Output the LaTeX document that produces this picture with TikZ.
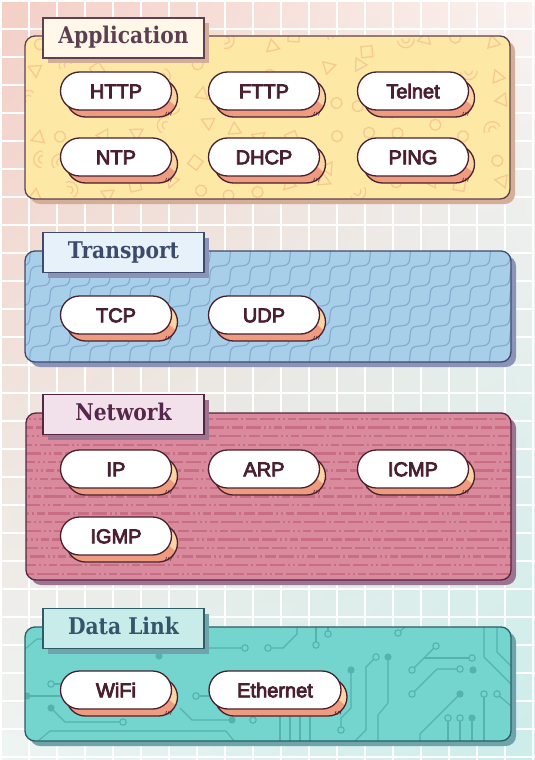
\documentclass[tikz,border=0pt]{standalone}
\usepackage{fontspec}
\usepackage{tikz}
\usetikzlibrary{shapes.misc,shadows,shadings}

\newfontfamily\tabfont{DejaVu Serif}[FakeStretch=0.88]
\newfontfamily\protofont{Liberation Sans}[FakeBold=4]

\definecolor{bgUL}{HTML}{F4CFC5}
\definecolor{bgUR}{HTML}{FAF1EF}
\definecolor{bgLL}{HTML}{EEF5F3}
\definecolor{bgLR}{HTML}{CBEDEA}
\definecolor{ink}{HTML}{4A1F2E}
\definecolor{salmon}{HTML}{EE9B80}
\definecolor{peach}{HTML}{FCD3A2}
\definecolor{applFill}{HTML}{FDE8A6}
\definecolor{applShape}{HTML}{F7C992}
\definecolor{applLine}{HTML}{5E4050}
\definecolor{applShadow}{HTML}{D5AE99}
\definecolor{applTab}{HTML}{FFF8E8}
\definecolor{applText}{HTML}{5E3F52}
\definecolor{tranFill}{HTML}{A8CFE9}
\definecolor{tranWave}{HTML}{84A9CD}
\definecolor{tranLine}{HTML}{3F4A6C}
\definecolor{tranShadow}{HTML}{8C93B8}
\definecolor{tranTab}{HTML}{E6F1FA}
\definecolor{tranText}{HTML}{3E4A6B}
\definecolor{netFill}{HTML}{D98A9C}
\definecolor{netDash}{HTML}{C96D85}
\definecolor{netLine}{HTML}{552640}
\definecolor{netShadow}{HTML}{9C7492}
\definecolor{netTab}{HTML}{F2E1EA}
\definecolor{netText}{HTML}{55274A}
\definecolor{linkFill}{HTML}{74D4CE}
\definecolor{linkTrace}{HTML}{55B2AD}
\definecolor{linkLine}{HTML}{2E5B64}
\definecolor{linkShadow}{HTML}{6FA4AB}
\definecolor{linkTab}{HTML}{C8ECE9}
\definecolor{linkText}{HTML}{34566A}

% protocol pill with its raised edge
\newcommand{\proto}[4][111]{%
  \begin{scope}[shift={(#3)}]
    \fill[peach, rounded corners=19pt] (-#1/2+6,-12) rectangle (#1/2+6,26);
    \begin{scope}
      \clip[rounded corners=19pt] (-#1/2+6,-12) rectangle (#1/2+6,26);
      \fill[salmon] (-#1/2,10) -- (#1/2-2,10) -- (#1/2+14,24) -- (#1/2+14,30) -- (-#1/2,30) -- cycle;
    \end{scope}
    \draw[ink, line width=1.3pt, rounded corners=19pt] (-#1/2+6,-12) rectangle (#1/2+6,26);
    \foreach \d in {0,2.5,5} \draw[ink, line width=.6pt] (#1/2-6+\d,24.5) -- (#1/2-5+\d,21);
  \end{scope}
  \node[proto, minimum width=#1pt] (#2) at (#3) {#4};
}

\begin{document}
\begin{tikzpicture}[x=1pt,y=-1pt,
  gridline/.style={white, line width=1.3pt},
  layer/.style={rounded corners=10pt, line width=1.3pt},
  tab/.style={draw=#1Line, fill=#1Tab, text=#1Text, line width=1.3pt,
    minimum width=161pt, minimum height=40pt, inner sep=0pt,
    text height=17pt, text depth=5pt,
    font=\tabfont\bfseries\fontsize{23}{26}\selectfont,
    drop shadow={fill=#1Shadow, opacity=1, shadow xshift=5pt, shadow yshift=-5pt}},
  proto/.style={rounded rectangle, draw=ink, fill=white, line width=1.3pt,
    minimum height=38pt, inner sep=0pt, text height=14.5pt, text depth=0pt,
    text=ink, font=\protofont\fontsize{20}{24}\selectfont},
  trace/.style={linkTrace, line width=1.1pt},
  pad/.style={linkTrace, line width=1.1pt, fill=linkFill},
  via/.style={linkTrace}]
\useasboundingbox (0,0) rectangle (535,760);
\shade[upper left=bgUL, upper right=bgUR, lower left=bgLL, lower right=bgLR] (0,0) rectangle (535,760);
\foreach \g in {1,29,...,535} \draw[gridline] (\g,0) -- (\g,760);
\foreach \g in {1,29,...,760} \draw[gridline] (0,\g) -- (535,\g);

% Application
\fill[applShadow, layer] (30,41) rectangle (515,204);
\fill[applFill, layer] (25,36) rectangle (510,199);
\begin{scope}
  \clip[rounded corners=10pt] (25,36) rectangle (510,199);
  \pgfmathsetseed{11}
  \foreach \i in {0,...,14} \foreach \j in {0,...,5} {
    \pgfmathsetmacro\px{34+33*\i+9*rand}
    \pgfmathsetmacro\py{44+29*\j+9*rand}
    \pgfmathsetmacro\rot{360*rnd}
    \pgfmathrandominteger{\kind}{1}{4}
    \begin{scope}[shift={(\px,\py)}, rotate=\rot, applShape, line width=1.3pt]
      \ifcase\kind\or \draw (0,0) circle (5.5);
      \or \draw (-5.5,-5.5) rectangle (5.5,5.5);
      \or \draw (0,-7) -- (6.5,4.5) -- (-6.5,4.5) -- cycle;
      \or \draw[line width=6pt] (6,0) arc (0:180:6); \draw[applFill, line width=3.4pt] (6,0) arc (0:180:6);
      \fi
    \end{scope}
  }
\end{scope}
\draw[applLine, layer] (25,36) rectangle (510,199);
\node[tab=appl] (application) at (123.5,38) {Application};
\proto{http}{116,91}{HTTP}
\proto{fttp}{264,91}{FTTP}
\proto{telnet}{413,91}{Telnet}
\proto{ntp}{116,157}{NTP}
\proto{dhcp}{264,157}{DHCP}
\proto{ping}{413,157}{PING}

% Transport
\fill[tranShadow, layer] (30,256) rectangle (516,367);
\fill[tranFill, layer] (25,251) rectangle (511,362);
\begin{scope}
  \clip[rounded corners=10pt] (25,251) rectangle (511,362);
  \foreach \xo in {-120,-100,...,520}
    \draw[tranWave, line width=1.1pt] plot[smooth, samples=90, domain=0:125, variable=\t]
      ({\xo+\t+2.8*sin(18*\t)}, {366-\t+2.8*sin(18*\t)});
\end{scope}
\draw[tranLine, layer] (25,251) rectangle (511,362);
\node[tab=tran] (transport) at (123.5,252.5) {Transport};
\proto{tcp}{116,315}{TCP}
\proto{udp}{264,315}{UDP}

% Network
\fill[netShadow, layer] (31,418) rectangle (516,585);
\fill[netFill, layer] (26,413) rectangle (511,580);
\begin{scope}
  \clip[rounded corners=10pt] (26,413) rectangle (511,580);
  \foreach \r in {0,...,18} {
    \pgfmathsetmacro\ph{100*rnd}
    \draw[netDash, line width=2.4pt, dash phase=\ph pt,
      dash pattern=on 15pt off 3pt on 2pt off 3pt on 2pt off 3pt on 8pt off 3pt on 22pt off 3pt on 2pt off 3pt on 11pt off 3pt]
      (26,419+8.6*\r) -- (511,419+8.6*\r);
  }
\end{scope}
\draw[netLine, layer] (26,413) rectangle (511,580);
\node[tab=net] (network) at (123.5,414.5) {Network};
\proto{ip}{116,469}{IP}
\proto{arp}{264,469}{ARP}
\proto{icmp}{413,469}{ICMP}
\proto{igmp}{116,536}{IGMP}

% Data Link
\fill[linkShadow, layer] (30,632) rectangle (516,746);
\fill[linkFill, layer] (25,627) rectangle (511,741);
\begin{scope}
  \clip[rounded corners=10pt] (25,627) rectangle (511,741);
  \draw[trace] (25,649) -- (37,639) -- (148,639) -- (159,656);
  \draw[trace] (51,684) -- (61,684);
  \draw[trace] (27,696) -- (61,696);
  \draw[trace] (51,708) -- (65,722) -- (123,722);
  \draw[trace] (38,741) -- (50,731) -- (226,731) -- (234,741);
  \draw[trace] (163,627) -- (184,648) -- (245,648);
  \draw[trace] (268,648) -- (283,648) -- (297,634) -- (297,627);
  \draw[trace] (196,696) -- (209,696);
  \draw[trace] (232,720) -- (192,720) -- (180,708);
  \draw[trace] (253,720) -- (253,712);
  \foreach \v in {280,290,300,310} \draw[trace] (\v,716) -- (\v,741);
  \draw[trace] (316,627) -- (316,645);
  \draw[trace] (328,627) -- (328,634);
  \draw[trace] (351,670) -- (351,708) -- (341,718) -- (341,730);
  \draw[trace] (376,657) -- (366,667) -- (366,730) -- (355,741);
  \draw[trace] (388,657) -- (388,703) -- (378,715) -- (378,741);
  \draw[trace] (398,633) -- (405,627);
  \draw[trace] (412,670) -- (436,646);
  \draw[trace] (424,658) -- (472,658);
  \draw[trace] (412,694) -- (437,669) -- (460,669);
  \draw[trace] (460,694) -- (420,734) -- (420,741);
  \draw[trace] (484,694) -- (484,741);
  \draw[trace] (497,694) -- (511,706);
  \foreach \v in {448,460,472} \draw[trace] (\v,718) -- (\v,741);
  \draw[trace] (484,627) -- (484,657) -- (511,684);
  \draw[trace] (497,627) -- (497,652) -- (511,666);
  \foreach \p in {(51,684),(123,722),(245,648),(268,648),(196,696),(253,720),(316,645),(328,634),
    (341,730),(376,657),(398,633),(412,670),(436,646),(472,658),(412,694),(460,669),
    (484,694),(497,694),(448,718),(460,718)}
    \draw[pad] \p circle (3.2);
  \foreach \p in {(159,656),(27,696),(51,708),(232,720),(351,670),(388,657),(473,670),(460,694),(472,718)}
    \fill[via] \p circle (3.6);
\end{scope}
\draw[linkLine, layer] (25,627) rectangle (511,741);
\node[tab=link] (datalink) at (123.5,628.5) {Data Link};
\proto{wifi}{116,690}{WiFi}
\proto[132]{ethernet}{275,690}{Ethernet}
\end{tikzpicture}
\end{document}
